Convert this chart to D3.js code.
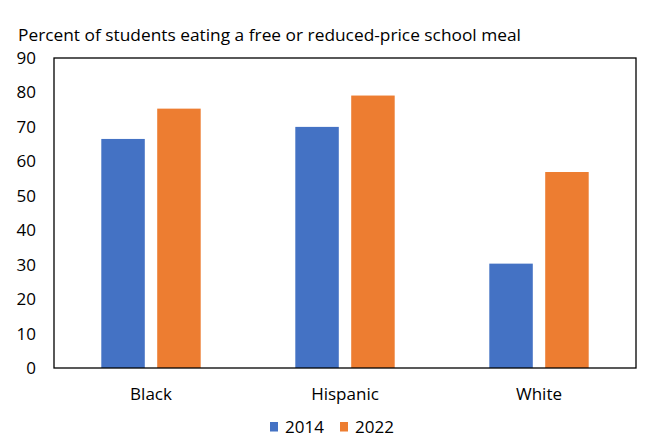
<!DOCTYPE html>
<html><head><meta charset="utf-8">
<script src="https://cdn.jsdelivr.net/npm/d3@7"></script>
<style>body{margin:0;background:#fff}svg text{font-family:"Open Sans",Lato,sans-serif;fill:#000}</style>
</head><body>
<svg id="c" width="652" height="442"></svg>
<script>
const categories = ["Black", "Hispanic", "White"];
const seriesNames = ["2014", "2022"];
const values2014 = [66.5, 70.0, 30.3];
const values2022 = [75.3, 79.1, 56.9];
const yTicks = [0, 10, 20, 30, 40, 50, 60, 70, 80, 90];
const colors = ["#4472C4", "#ED7D31"];
const title = "Percent of students eating a free or reduced-price school meal";

const svg = d3.select("#c");
const m = {l: 54, r: 636, t: 58, b: 368};
const x = d3.scaleBand().domain(categories).range([m.l, m.r]);
const y = d3.scaleLinear().domain([0, 90]).range([m.b, m.t]);
const inner = d3.scaleBand().domain(seriesNames).range([0, 99.4]).paddingInner(0.222);
const series = [values2014, values2022];

svg.append("text").attr("x", 18).attr("y", 41).attr("font-size", 17)
  .attr("textLength", 503).attr("lengthAdjust", "spacingAndGlyphs").text(title);

const g = svg.append("g");
series.forEach((vals, si) => {
  g.selectAll(null).data(categories).enter().append("rect")
    .attr("x", d => x(d) + x.bandwidth()/2 - 49.7 + inner(seriesNames[si]))
    .attr("width", inner.bandwidth())
    .attr("y", (d, i) => y(vals[i]))
    .attr("height", (d, i) => y(0) - y(vals[i]))
    .attr("fill", colors[si]);
});

svg.append("rect").attr("x", m.l).attr("y", m.t).attr("width", m.r - m.l).attr("height", m.b - m.t)
  .attr("fill", "none").attr("stroke", "#000").attr("stroke-width", 1.3);

const ya = svg.append("g").attr("transform", `translate(${m.l},0)`)
  .call(d3.axisLeft(y).tickValues(yTicks).tickSize(0).tickPadding(18));
ya.select(".domain").remove();
ya.selectAll("text").attr("font-size", 17).attr("font-family", "'Open Sans',sans-serif").attr("fill", "#000");

const xa = svg.append("g").attr("transform", `translate(0,${m.b})`)
  .call(d3.axisBottom(x).tickSize(0).tickPadding(20));
xa.select(".domain").remove();
xa.selectAll("text").attr("font-size", 17).attr("font-family", "'Open Sans',sans-serif").attr("fill", "#000");

const legX = [270, 340];
seriesNames.forEach((s, i) => {
  svg.append("rect").attr("x", legX[i]).attr("y", 422).attr("width", 8).attr("height", 9.5).attr("fill", colors[i]);
  svg.append("text").attr("x", legX[i] + 15).attr("y", 433).attr("font-size", 17).text(s);
});
</script>
</body></html>
